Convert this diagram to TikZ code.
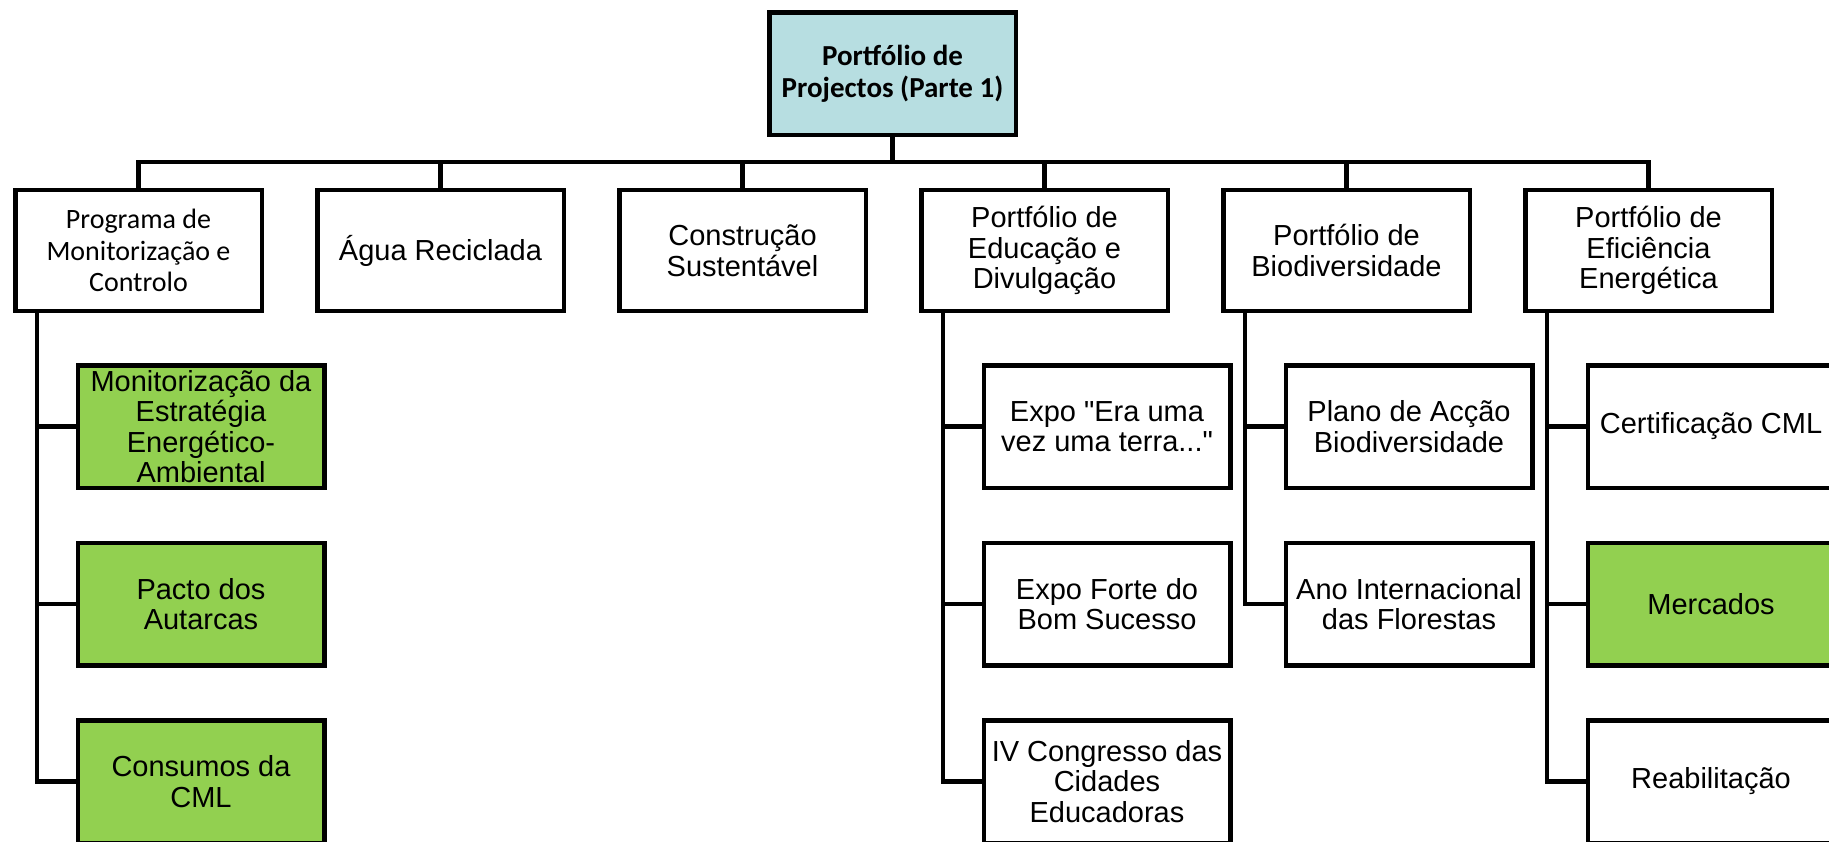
\documentclass[tikz,border=0pt]{standalone}
\usepackage{fontspec}
\setmainfont{Liberation Sans}
\newfontfamily\arialfont{Liberation Sans}
\newfontfamily\calibrifont{Carlito}
\definecolor{topblue}{RGB}{183,222,225}
\definecolor{taskgreen}{RGB}{146,208,80}
\tikzset{every picture/.style={line width=4.5pt}}
\tikzset{
  wbsbox/.style={draw=black, fill=white, rectangle, minimum width=246.5pt, minimum height=121pt,
    inner sep=2pt, align=center, font=\arialfont\fontsize{29}{30.5}\selectfont},
  rootbox/.style={wbsbox, fill=topblue, minimum height=122.5pt, font=\calibrifont\bfseries\fontsize{29}{32}\selectfont},
  subbox/.style={wbsbox, minimum height=122.5pt},
  greenbox/.style={subbox, fill=taskgreen},
  wbsline/.style={draw=black, line width=4.5pt}
}

\begin{document}
\begin{tikzpicture}[x=1pt,y=1pt,yscale=-1,xscale=1]
	\useasboundingbox (0,0) rectangle (1829,841);
	\clip (0,0) rectangle (1829,841);

	% Root
	\node [rootbox] (root) at (892.5,73.5) {Portfólio de\\Projectos (Parte 1)};
	\coordinate (bus) at (892.5,162);

	% Level 1
	\node [wbsbox, font=\calibrifont\fontsize{28}{31.5}\selectfont] (prog) at (138.5,250.5) {Programa de\\Monitorização e\\Controlo};
	\node [wbsbox] (agua) at (440.5,250.5) {Água Reciclada};
	\node [wbsbox] (constr) at (742.5,250.5) {Construção\\Sustentável};
	\node [wbsbox] (educ) at (1044.5,250.5) {Portfólio de\\Educação e\\Divulgação};
	\node [wbsbox] (biod) at (1346.5,250.5) {Portfólio de\\Biodiversidade};
	\node [wbsbox] (efic) at (1648.5,250.5) {Portfólio de\\Eficiência\\Energética};

	% Level 2 - Programa de Monitorização
	\node [greenbox] (monit) at (201,426.5) {Monitorização da\\Estratégia\\Energético-\\Ambiental};
	\node [greenbox] (pacto) at (201,604) {Pacto dos\\Autarcas};
	\node [greenbox] (consumos) at (201,781.5) {Consumos da\\CML};

	% Level 2 - Educação e Divulgação
	\node [subbox] (expoera) at (1107,426.5) {Expo "Era uma\\vez uma terra..."};
	\node [subbox] (expoforte) at (1107,604) {Expo Forte do\\Bom Sucesso};
	\node [subbox] (congresso) at (1107,781.5) {IV Congresso das\\Cidades\\Educadoras};

	% Level 2 - Biodiversidade
	\node [subbox] (plano) at (1409,426.5) {Plano de Acção\\Biodiversidade};
	\node [subbox] (ano) at (1409,604) {Ano Internacional\\das Florestas};

	% Level 2 - Eficiência Energética
	\node [subbox] (certif) at (1711,426.5) {Certificação CML};
	\node [greenbox] (mercados) at (1711,604) {Mercados};
	\node [subbox] (reabil) at (1711,781.5) {Reabilitação};

	% Connectors level 1
	\draw [wbsline] (root.south) -- (bus);
	\foreach \n in {prog,agua,constr,educ,biod,efic}
		\draw [wbsline] (bus) -| (\n.north);

	% Connectors level 2
	\foreach \p/\c in {prog/monit,prog/pacto,prog/consumos,
		educ/expoera,educ/expoforte,educ/congresso,
		biod/plano,biod/ano,
		efic/certif,efic/mercados,efic/reabil}
		\draw [wbsline] ([xshift=23.75pt]\p.south west) |- (\c.west);

\end{tikzpicture}
\end{document}
